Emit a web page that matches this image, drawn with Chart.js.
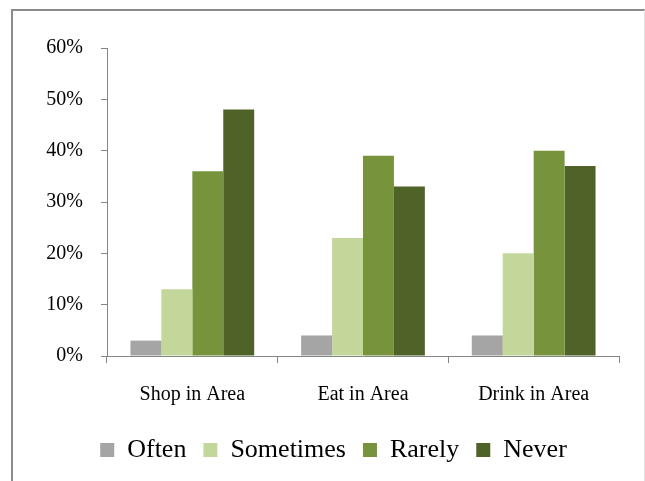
<!DOCTYPE html>
<html>
<head>
<meta charset="utf-8">
<script src="https://cdn.jsdelivr.net/npm/chart.js@4"></script>
<style>
  html, body { margin: 0; padding: 0; background: #fff; }
  #frame {
    position: absolute; left: 11px; top: 9px; width: 631px; height: 480px;
    border-top: 2px solid #8c8c8c; border-left: 2px solid #8c8c8c; border-right: 1px solid #e2e2e2;
  }
  #chart { position: absolute; left: 0; top: 0; }
</style>
</head>
<body>
<div id="frame"></div>
<canvas id="chart" width="645" height="481"></canvas>
<script>
// Chart data
const categories = ['Shop in Area', 'Eat in Area', 'Drink in Area'];
const seriesNames = ['Often', 'Sometimes', 'Rarely', 'Never'];
const often = [3, 4, 4];
const sometimes = [13, 23, 20];
const rarely = [36, 39, 40];
const never = [48, 33, 37];
const yTicks = [0, 10, 20, 30, 40, 50, 60];

const colors = ['#a5a5a5', '#c4d79b', '#77933c', '#4f6228'];
const axisColor = '#868686';
const serif = 'Liberation Serif, Times New Roman, serif';

// nudge the legend to the right, the way the original sits
const legendShift = {
  id: 'legendShift',
  afterLayout(chart) {
    chart.legend.left += 24;
    chart.legend.right += 24;
  },
};

const ctx = document.getElementById('chart').getContext('2d');
new Chart(ctx, {
  type: 'bar',
  data: {
    labels: categories,
    datasets: [often, sometimes, rarely, never].map((vals, i) => ({
      label: seriesNames[i],
      data: vals,
      backgroundColor: colors[i],
      borderWidth: 0,
      categoryPercentage: 0.725,
      barPercentage: 1.0,
    })),
  },
  options: {
    responsive: false,
    animation: false,
    layout: { padding: { top: 48, right: 26, left: 0, bottom: 8 } },
    plugins: {
      tooltip: { enabled: false },
      legend: {
        position: 'bottom',
        labels: {
          boxWidth: 14,
          boxHeight: 14,
          padding: 17,
          color: '#000',
          font: { family: serif, size: 26 },
        },
      },
    },
    scales: {
      x: {
        border: { color: axisColor, width: 1 },
        grid: { display: true, drawOnChartArea: false, drawTicks: true, tickLength: 7, color: axisColor },
        ticks: { color: '#000', padding: 20, font: { family: serif, size: 20 } },
        afterFit: (scale) => { scale.height = 64; },
      },
      y: {
        min: 0,
        max: 60,
        afterBuildTicks: (scale) => { scale.ticks = yTicks.map((v) => ({ value: v })); },
        border: { color: axisColor, width: 1 },
        grid: { display: true, drawOnChartArea: false, drawTicks: true, tickLength: 6, color: axisColor },
        ticks: {
          color: '#000',
          padding: 18,
          font: { family: serif, size: 20 },
          callback: (v) => v + '%',
        },
        afterFit: (scale) => { scale.width = 107; },
      },
    },
  },
  plugins: [legendShift],
});
</script>
</body>
</html>
